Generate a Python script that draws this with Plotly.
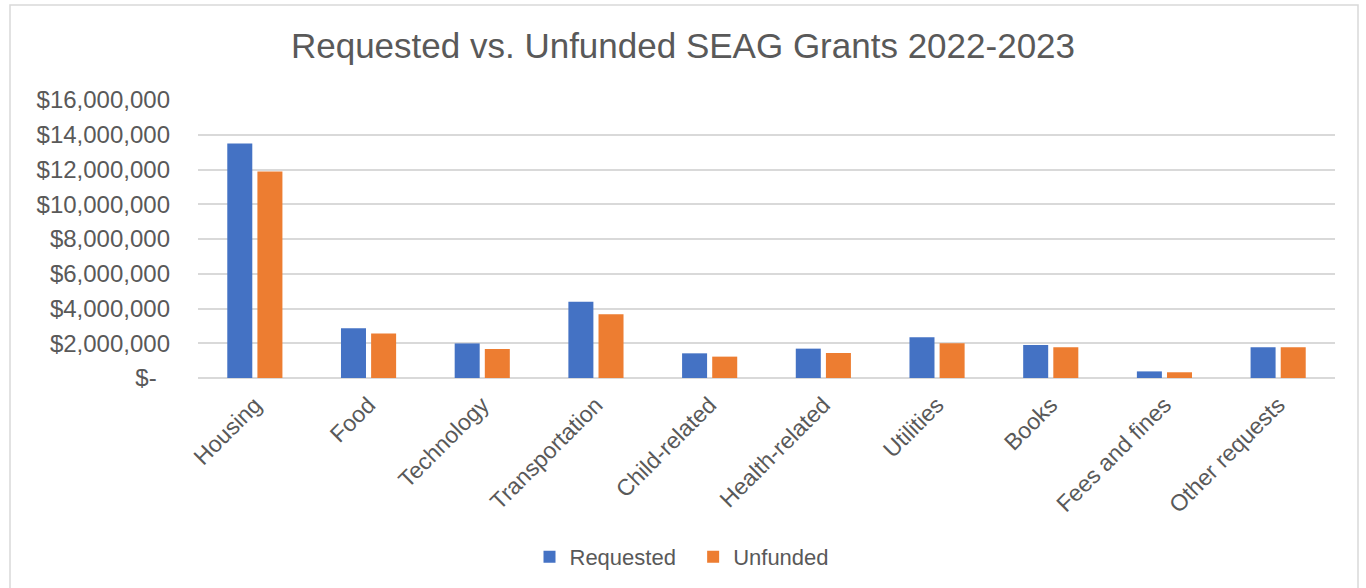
import plotly.graph_objects as go

categories = ["Housing", "Food", "Technology", "Transportation", "Child-related",
              "Health-related", "Utilities", "Books", "Fees and fines", "Other requests"]
requested = [13500000, 2870000, 1990000, 4390000, 1420000, 1690000, 2350000, 1900000, 380000, 1770000]
unfunded = [11890000, 2560000, 1670000, 3670000, 1230000, 1440000, 2000000, 1770000, 330000, 1770000]
y_tickvals = [0, 2000000, 4000000, 6000000, 8000000, 10000000, 12000000, 14000000, 16000000]
y_ticktext = ["$-\u00a0\u00a0", "$2,000,000", "$4,000,000", "$6,000,000", "$8,000,000",
              "$10,000,000", "$12,000,000", "$14,000,000", "$16,000,000"]

FONT = "Liberation Sans, Arial, sans-serif"
GRAY = "#595959"
GRID = "#D9D9D9"

W, H = 1366, 588
ML, MR, MT, MB = 198, 31, 100, 210
PW, PH = W - ML - MR, H - MT - MB

fig = go.Figure()
fig.add_trace(go.Bar(name="Requested\u00a0\u00a0", x=categories, y=requested,
                     marker=dict(color="#4472C4", line=dict(width=0))))
fig.add_trace(go.Bar(name="Unfunded", x=categories, y=unfunded,
                     marker=dict(color="#ED7D31", line=dict(width=0))))

def px_to_paper_x(px):
    return (px - ML) / PW

def px_to_paper_y(py):
    return (H - MB - py) / PH

fig.update_layout(
    width=W, height=H,
    margin=dict(l=ML, r=MR, t=MT, b=MB, autoexpand=False),
    paper_bgcolor="white", plot_bgcolor="white",
    barmode="group", bargap=0.47, bargroupgap=0.17,
    font=dict(family=FONT, color=GRAY, size=22),
    title=dict(text="Requested vs. Unfunded SEAG Grants 2022-2023",
               x=0.5, xref="container", xanchor="center",
               y=1 - 46 / H, yref="container", yanchor="middle",
               font=dict(family=FONT, size=35, color=GRAY)),
    xaxis=dict(tickangle=-45, tickfont=dict(size=23, color=GRAY),
               showgrid=False, showline=False, ticks="", ticklabelstandoff=8),
    yaxis=dict(range=[0, 16000000], tickvals=y_tickvals, ticktext=y_ticktext,
               tickfont=dict(size=24, color=GRAY), showgrid=True, gridcolor=GRID,
               gridwidth=1.5, zeroline=True, zerolinecolor=GRID, zerolinewidth=1.5,
               showline=False, ticks="", ticklabelstandoff=27),
    legend=dict(orientation="h", x=px_to_paper_x(682), xanchor="center",
                y=px_to_paper_y(557), yanchor="middle",
                font=dict(size=22, color=GRAY), itemwidth=30),
    showlegend=True,
    shapes=[dict(type="rect", xref="paper", yref="paper",
                 x0=px_to_paper_x(10), x1=px_to_paper_x(1358),
                 y0=px_to_paper_y(620), y1=px_to_paper_y(5),
                 line=dict(color=GRID, width=1.5), fillcolor="rgba(0,0,0,0)", layer="below")],
)

fig.write_html("out.html", config={"displayModeBar": False},
               post_script="document.body.style.margin='0';document.body.style.overflow='hidden';")
